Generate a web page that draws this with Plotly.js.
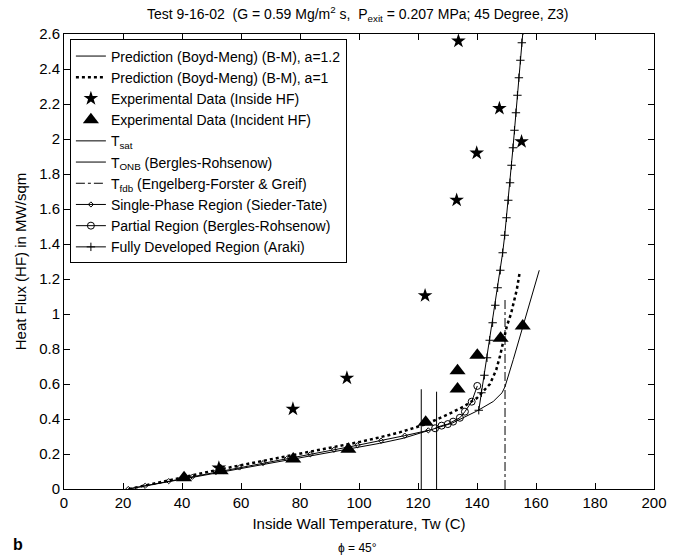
<!DOCTYPE html>
<html>
<head>
<meta charset="utf-8">
<script src="https://cdn.plot.ly/plotly-3.0.1.min.js"></script>
<style>html,body{margin:0;padding:0;background:#fff;}#chart{width:684px;height:556px;}</style>
</head>
<body>
<div id="chart"></div>
<script>
// ---- Data ----
const bm12X = [21.8, 30, 40, 50, 60, 70, 80, 90, 100, 107, 115, 122.6, 131.4, 139.9, 145.5, 148.5, 149.5, 152.3, 155.5, 158.5, 161.1];
const bm12Y = [0, 0.025, 0.057, 0.087, 0.117, 0.146, 0.175, 0.205, 0.236, 0.261, 0.29, 0.33, 0.375, 0.445, 0.5, 0.55, 0.585, 0.74, 0.93, 1.1, 1.25];

const bm1X = [22, 30, 40, 50, 60, 70, 80, 90, 100, 107, 114, 122.6, 130, 135.4, 140, 144.4, 146.5, 147.8, 149, 150.1, 151.5, 152.3, 153.5, 154.4];
const bm1Y = [0, 0.03, 0.068, 0.102, 0.136, 0.168, 0.2, 0.233, 0.268, 0.295, 0.325, 0.37, 0.425, 0.47, 0.52, 0.6, 0.68, 0.76, 0.85, 0.93, 1.0, 1.05, 1.14, 1.23];

const insideX = [52.5, 77.6, 95.9, 122.4, 133.1, 139.9, 133.7, 147.6, 155.1];
const insideY = [0.12, 0.457, 0.634, 1.105, 1.651, 1.92, 2.56, 2.175, 1.985];

const incidentX = [40.7, 53.1, 77.7, 96.4, 122.6, 133.4, 133.4, 140.1, 148.0, 155.5];
const incidentY = [0.065, 0.105, 0.171, 0.227, 0.381, 0.571, 0.676, 0.764, 0.861, 0.931];

const tsatX = [121.1, 121.1];
const tsatY = [0, 0.57];
const tonbX = [126.3, 126.3];
const tonbY = [0, 0.556];
const tfdbX = [149.5, 149.5];
const tfdbY = [0, 1.09];

const singleX = [21.8, 27.5, 35.5, 43.5, 51.5, 59.5, 67.5, 75.5, 83.5, 91.5, 99.5, 107.5, 115.5, 123.5];
const singleY = [0, 0.018, 0.045, 0.07, 0.097, 0.123, 0.148, 0.172, 0.198, 0.224, 0.25, 0.276, 0.305, 0.335];

const partialX = [125.8, 128.0, 130.1, 131.9, 134.2, 135.9, 138.2, 140.1];
const partialY = [0.347, 0.362, 0.371, 0.385, 0.407, 0.442, 0.499, 0.589];

const arakiX = [140.6, 141.5, 142.5, 143.4, 144.3, 145.3, 146.2, 147.0, 147.9, 148.7, 149.4, 150.0, 150.6, 151.2, 151.7, 152.2, 152.7, 153.2, 153.7, 154.2, 154.7, 155.2, 155.6];
const arakiY = [0.45, 0.55, 0.65, 0.75, 0.85, 0.95, 1.05, 1.15, 1.25, 1.35, 1.45, 1.55, 1.65, 1.75, 1.85, 1.95, 2.05, 2.15, 2.25, 2.35, 2.45, 2.55, 2.62];

const xTickVals = [0, 20, 40, 60, 80, 100, 120, 140, 160, 180, 200];
const yTickVals = [0, 0.2, 0.4, 0.6, 0.8, 1, 1.2, 1.4, 1.6, 1.8, 2, 2.2, 2.4, 2.6];
const yTickText = ["0", "0.2", "0.4", "0.6", "0.8", "1", "1.2", "1.4", "1.6", "1.8", "2", "2.2", "2.4", "2.6"];

const names = [
  "Prediction (Boyd-Meng) (B-M), a=1.2",
  "Prediction (Boyd-Meng) (B-M), a=1",
  "Experimental Data (Inside HF)",
  "Experimental Data (Incident HF)",
  "T<sub>sat</sub>",
  "T<sub>ONB</sub> (Bergles-Rohsenow)",
  "T<sub>fdb</sub> (Engelberg-Forster &amp; Greif)",
  "Single-Phase Region (Sieder-Tate)",
  "Partial Region (Bergles-Rohsenow)",
  "Fully Developed Region (Araki)"
];

// ---- Traces ----
const K = "#000";
const traces = [
  {x: bm12X, y: bm12Y, name: names[0], mode: "lines", line: {color: K, width: 1}},
  {x: bm1X, y: bm1Y, name: names[1], mode: "lines", line: {color: K, width: 2.5, dash: "dot"}},
  {x: insideX, y: insideY, name: names[2], mode: "markers", marker: {symbol: "star", size: 11, color: K}},
  {x: incidentX, y: incidentY, name: names[3], mode: "markers", marker: {symbol: "triangle-up", size: 14, color: K}},
  {x: tsatX, y: tsatY, name: names[4], mode: "lines", line: {color: K, width: 1}},
  {x: tonbX, y: tonbY, name: names[5], mode: "lines", line: {color: K, width: 1}},
  {x: tfdbX, y: tfdbY, name: names[6], mode: "lines", line: {color: K, width: 1, dash: "dashdot"}},
  {x: singleX, y: singleY, name: names[7], mode: "lines+markers", line: {color: K, width: 1},
   marker: {symbol: "diamond-open", size: 4, color: K, line: {width: 1, color: K}}},
  {x: partialX, y: partialY, name: names[8], mode: "lines+markers", line: {color: K, width: 1},
   marker: {symbol: "circle-open", size: 7, color: K, line: {width: 1, color: K}}},
  {x: arakiX, y: arakiY, name: names[9], mode: "lines+markers", line: {color: K, width: 1},
   marker: {symbol: "cross-thin", size: 6, color: K, line: {width: 1, color: K}}}
];

const font = {family: "Liberation Sans, Arial, Helvetica, sans-serif", color: K};

const layout = {
  width: 684, height: 556,
  margin: {l: 64, r: 30, t: 34, b: 67},
  paper_bgcolor: "#fff", plot_bgcolor: "#fff",
  font: Object.assign({size: 15}, font),
  showlegend: true,
  title: {
    text: "Test 9-16-02  (G = 0.59 Mg/m<sup>2</sup> s,  P<sub>exit</sub> = 0.207 MPa; 45 Degree, Z3)",
    font: Object.assign({size: 14}, font),
    x: 0.523, xanchor: "center", y: 0.975, yanchor: "middle"
  },
  xaxis: {
    range: [0, 200], tickvals: xTickVals, ticks: "inside", ticklen: 6, tickcolor: K,
    showline: true, linecolor: K, linewidth: 1, mirror: "ticks", showgrid: false, zeroline: false,
    tickfont: Object.assign({size: 15}, font),
    title: {text: "Inside Wall Temperature, Tw (C)", font: Object.assign({size: 15}, font), standoff: 8}
  },
  yaxis: {
    range: [0, 2.6], tickvals: yTickVals, ticktext: yTickText, ticks: "inside", ticklen: 6, tickcolor: K,
    showline: true, linecolor: K, linewidth: 1, mirror: "ticks", showgrid: false, zeroline: false,
    tickfont: Object.assign({size: 15}, font),
    title: {text: "Heat Flux (HF) in MW/sqm", font: Object.assign({size: 15}, font), standoff: 8}
  },
  legend: {
    x: 0.01, y: 0.988, xanchor: "left", yanchor: "top",
    bgcolor: "#fff", bordercolor: K, borderwidth: 1,
    font: Object.assign({size: 14}, font),
    tracegroupgap: 0, itemwidth: 30
  },
  annotations: [
    {text: "<b>b</b>", xref: "paper", yref: "paper", x: -0.078, y: -0.123, showarrow: false,
     xanchor: "center", yanchor: "middle", font: Object.assign({size: 16}, font)},
    {text: "ϕ = 45°", xref: "paper", yref: "paper", x: 0.498, y: -0.13, showarrow: false,
     xanchor: "center", yanchor: "middle", font: Object.assign({size: 12}, font)}
  ]
};

Plotly.newPlot("chart", traces, layout, {displayModeBar: false, staticPlot: true});
</script>
</body>
</html>
